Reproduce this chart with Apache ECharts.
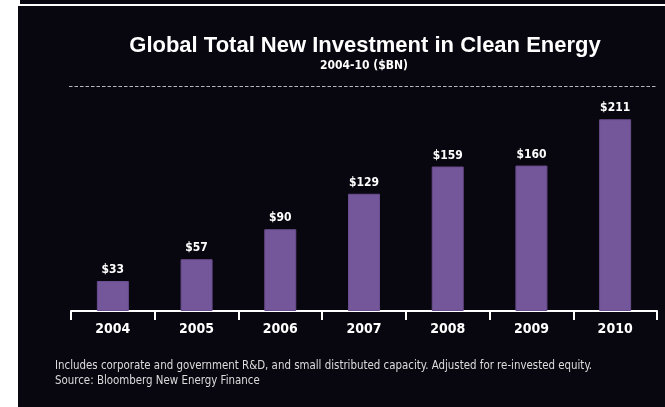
<!DOCTYPE html>
<html>
<head>
<meta charset="utf-8">
<script src="https://cdn.jsdelivr.net/npm/echarts@6/dist/echarts.min.js"></script>
<style>
  html, body { margin: 0; padding: 0; background: #ffffff; }
  #chart { width: 665px; height: 407px; }
</style>
</head>
<body>
<div id="chart"></div>
<script>
// Clean-energy investment by year, $ billions
const years = ['2004', '2005', '2006', '2007', '2008', '2009', '2010'];
const investment = [33, 57, 90, 129, 159, 160, 211];

const titleText = 'Global Total New Investment in Clean Energy';
const subtitleText = '2004-10 ($BN)';
const noteLines = [
  'Includes corporate and government R&D, and small distributed capacity. Adjusted for re-invested equity.',
  'Source: Bloomberg New Energy Finance'
];

const panel = '#08070f';
const barColor = '#74569a';
const condensed = '"DejaVu Sans Condensed", "Liberation Sans Narrow", "Liberation Sans", sans-serif';

const chart = echarts.init(document.getElementById('chart'), null, { renderer: 'canvas' });

chart.setOption({
  backgroundColor: '#ffffff',
  animation: false,
  grid: { left: 71, right: 8, top: 102, bottom: 96 },
  xAxis: {
    type: 'category',
    data: years,
    boundaryGap: true,
    axisLine: { lineStyle: { color: '#ffffff', width: 2 } },
    axisTick: { show: true, length: 9, lineStyle: { color: '#ffffff', width: 2 } },
    axisLabel: {
      color: '#ffffff', fontFamily: condensed, fontWeight: 'bold', fontSize: 14, margin: 11
    }
  },
  yAxis: {
    type: 'value', min: 0, max: 230,
    show: false, splitLine: { show: false }
  },
  series: [{
    type: 'bar',
    data: investment,
    barWidth: 32,
    itemStyle: { color: barColor, borderColor: '#6a4d8e', borderWidth: 1 },
    label: {
      show: true, position: 'top', distance: 5,
      color: '#ffffff', fontFamily: condensed, fontWeight: 'bold', fontSize: 12,
      formatter: p => '$' + p.value
    }
  }],
  graphic: [
    { type: 'rect', z: -10, silent: true, shape: { x: 18, y: 6, width: 647, height: 401 }, style: { fill: panel } },
    { type: 'rect', z: -10, silent: true, shape: { x: 20, y: 0, width: 645, height: 4 }, style: { fill: panel } },
    {
      type: 'line', silent: true,
      shape: { x1: 69, y1: 86.5, x2: 657, y2: 86.5 },
      style: { stroke: '#b8b8bc', lineWidth: 1, lineDash: [3.5, 2] }
    },
    {
      type: 'text', silent: true,
      style: {
        text: titleText, x: 365, y: 46, align: 'center', verticalAlign: 'middle',
        fill: '#ffffff', font: 'bold 22px "Liberation Sans", sans-serif'
      }
    },
    {
      type: 'text', silent: true,
      style: {
        text: subtitleText, x: 364, y: 66, align: 'center', verticalAlign: 'middle',
        fill: '#ffffff', font: 'bold 12px ' + condensed
      }
    },
    {
      type: 'text', silent: true,
      style: {
        text: noteLines[0], x: 55, y: 366, align: 'left', verticalAlign: 'middle',
        fill: '#dcdcdc', font: '11.4px ' + condensed
      }
    },
    {
      type: 'text', silent: true,
      style: {
        text: noteLines[1], x: 55, y: 381, align: 'left', verticalAlign: 'middle',
        fill: '#dcdcdc', font: '11.4px ' + condensed
      }
    }
  ]
});
</script>
</body>
</html>
